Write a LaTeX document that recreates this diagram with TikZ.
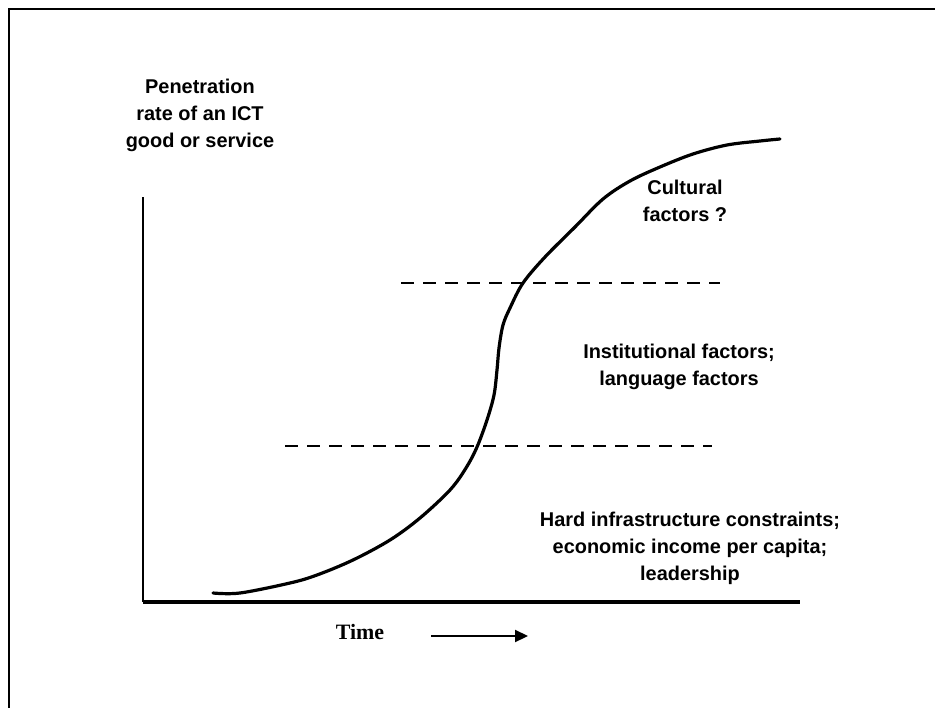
\documentclass[tikz,border=0pt]{standalone}
\usepackage{fontspec}
\setmainfont{Liberation Sans}
\newfontfamily\timesfont{Liberation Serif}
\usetikzlibrary{arrows.meta}
\begin{document}
\begin{tikzpicture}[x=1bp,y=-1bp,
  lbl/.style={font=\fontsize{20}{27}\selectfont\bfseries, align=center, inner sep=0pt},
  axisline/.style={line width=2.8bp},
  dashline/.style={line width=1.8bp, dash pattern=on 13bp off 9bp},
  curveline/.style={line width=3.2bp, line cap=round, line join=round}]
\useasboundingbox (0,0) rectangle (935,708);
% frame (top and left only)
\draw[line width=2.8bp] (9,708) -- (9,9) -- (935,9);
% axes
\coordinate (ytop) at (143,197);
\coordinate (orig) at (143,602);
\coordinate (xend) at (800,602);
\draw[axisline] (ytop) -- (orig);
\draw[line width=4.2bp] (orig) -- (xend);
% dashed levels
\coordinate (d1a) at (285,446); \coordinate (d1b) at (712,446);
\coordinate (d2a) at (401,283); \coordinate (d2b) at (720,283);
\draw[dashline] (d1a) -- (d1b);
\draw[dashline] (d2a) -- (d2b);
% S-curve
\draw[curveline] plot[smooth, tension=0.55] coordinates {
 (213,593) (240,593) (290,583) (317,575) (353,560) (390,540) (420,518)
 (450,490) (466,468) (477,447) (487,420) (494,395) (497,370) (499,348)
 (503,325) (510,308) (523,283) (545,257) (575,227) (603,199) (630,181)
 (660,167) (693,154) (727,145) (760,141) (780,139)};
% labels
\node[lbl] (ylab) at (200,115) {Penetration\\rate of an ICT\\good or service};
\node[lbl] (cult) at (685,201) {Cultural\\factors ?};
\node[lbl] (inst) at (679,367) {Institutional factors;\\language factors};
\node[lbl] (hard) at (690,548) {Hard infrastructure constraints;\\economic income per capita;\\leadership};
\node[font=\timesfont\fontsize{22}{24}\selectfont\bfseries, inner sep=0pt] (time) at (360,632) {Time};
\coordinate (ta) at (431,636);
\coordinate (tb) at (528,636);
\draw[line width=2.2bp, -{Triangle[length=13bp,width=12bp]}] (ta) -- (tb);
\end{tikzpicture}
\end{document}
